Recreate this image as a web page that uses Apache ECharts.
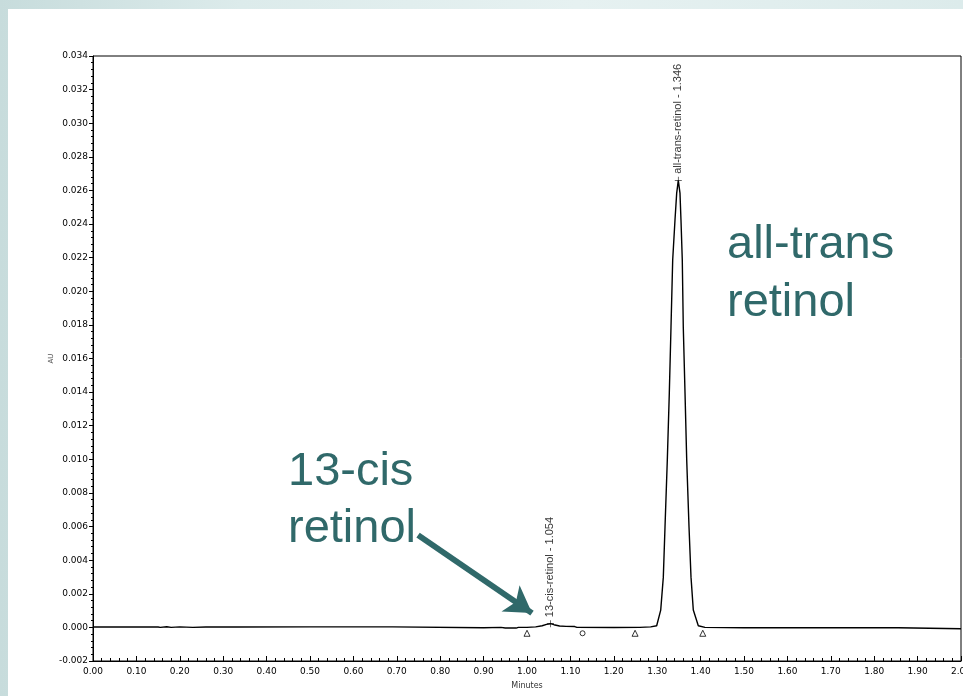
<!DOCTYPE html>
<html>
<head>
<meta charset="utf-8">
<script src="https://cdn.jsdelivr.net/npm/echarts@6/dist/echarts.min.js"></script>
<style>
  html, body { margin:0; padding:0; width:963px; height:696px; overflow:hidden;
    background: linear-gradient(to right, #c7dcdc 0%, #dcebeb 25%, #e6f1f1 60%, #dcebeb 100%); }
  #panel { position:absolute; left:8px; top:9px; right:0; bottom:0; background:#ffffff; }
  #chart { position:absolute; left:0; top:0; width:963px; height:696px; }
</style>
</head>
<body>
<div id="panel"></div>
<div id="chart"></div>
<script>
// ---- data ----
const times = [
  0.000, 0.150, 0.155, 0.170, 0.180, 0.200, 0.230, 0.260, 0.330, 0.500,
  0.690, 0.692, 0.900, 0.940, 0.950, 0.975, 0.980, 1.000, 1.020, 1.035,
  1.045, 1.054, 1.062, 1.075, 1.090, 1.110, 1.115, 1.200, 1.260, 1.285,
  1.2988, 1.3081, 1.3141, 1.3180, 1.3233, 1.3279, 1.3318, 1.3357, 1.3410, 1.3449,
  1.3486, 1.3525, 1.3548, 1.3578, 1.3601, 1.3641, 1.3680, 1.3733, 1.3779, 1.3832,
  1.3947, 1.410, 1.500, 1.855, 1.857, 2.000
];
const absorbance = [
  0.00002, 0.00002, 0.00000, 0.00004, 0.00000, 0.00003, 0.00000, 0.00002, 0.00002, 0.00003,
  0.00003, -0.00002, -0.00002, 0.00000, -0.00004, -0.00004, 0.00000, 0.00000, 0.00003, 0.00010,
  0.00018, 0.00022, 0.00016, 0.00008, 0.00006, 0.00005, 0.00000, -0.00001, 0.00000, 0.00003,
  0.00010, 0.00103, 0.00299, 0.00597, 0.00996, 0.01394, 0.01787, 0.02186, 0.02424, 0.02584,
  0.02660, 0.02584, 0.02424, 0.02186, 0.01787, 0.01394, 0.00996, 0.00597, 0.00299, 0.00103,
  0.00010, 0.00000, -0.00002, -0.00002, -0.00008, -0.00008
];
const peakNames = ['13-cis-retinol - 1.054', 'all-trans-retinol - 1.346'];
const peakTimes = [1.054, 1.3486];
const peakHeights = [0.00022, 0.02660];
const triangleTimes = [1.000, 1.249, 1.405];
const dropTimes = [1.128];
const markerLevel = -0.00035;
const annotations = ['all-trans\nretinol', '13-cis\nretinol'];
const arrowFrom = [0.749, 0.00549];
const arrowTo = [1.0115, 0.00085];

const teal = '#30696a';
const tickFont = { fontFamily: 'DejaVu Sans', fontSize: 9, color: '#000' };

const chart = echarts.init(document.getElementById('chart'), null, { renderer: 'canvas' });
chart.setOption({
  animation: false,
  backgroundColor: 'transparent',
  grid: { left: 93, right: 2, top: 56, bottom: 35, containLabel: false, outerBoundsMode: 'none',
          show: true, borderColor: '#000', borderWidth: 1, backgroundColor: 'transparent' },
  xAxis: {
    type: 'value', min: 0, max: 2, interval: 0.1,
    name: 'Minutes', nameLocation: 'middle', nameGap: 21, nameMoveOverlap: false,
    nameTextStyle: { fontFamily: 'DejaVu Sans', fontSize: 8, color: '#333' },
    axisLine: { onZero: false, lineStyle: { color: '#000', width: 1 } },
    axisTick: { inside: true, length: 5, lineStyle: { color: '#000' } },
    minorTick: { show: true, splitNumber: 5, length: 3, lineStyle: { color: '#000' } },
    splitLine: { show: false },
    axisLabel: Object.assign({ margin: 6, hideOverlap: false, showMaxLabel: true, formatter: v => v.toFixed(2) }, tickFont)
  },
  yAxis: {
    type: 'value', min: -0.002, max: 0.034, interval: 0.002,
    name: 'AU', nameLocation: 'middle', nameGap: 38, nameMoveOverlap: false,
    nameTextStyle: { fontFamily: 'DejaVu Sans', fontSize: 7, color: '#555' },
    axisLine: { onZero: false, lineStyle: { color: '#000', width: 1 } },
    axisTick: { inside: false, length: 4, lineStyle: { color: '#000' } },
    minorTick: { show: true, splitNumber: 5, length: 2, lineStyle: { color: '#000' } },
    splitLine: { show: false },
    axisLabel: Object.assign({ margin: 5, formatter: v => v.toFixed(3) }, tickFont)
  },
  series: [
    {
      type: 'line', name: 'trace', showSymbol: false, symbol: 'none',
      data: times.map((t, i) => [t, absorbance[i]]),
      lineStyle: { color: '#000', width: 1.4 },
      z: 3,
      markLine: {
        silent: true, symbol: ['none', 'arrow'], symbolSize: [24, 26],
        lineStyle: { color: teal, width: 6, type: 'solid' },
        label: { show: false },
        data: [[{ coord: arrowFrom }, { coord: arrowTo }]]
      }
    },
    {
      type: 'scatter', name: 'peaks',
      symbol: 'path://M0,4.5h10v1h-10z M4.5,0h1v10h-1z', symbolSize: 7,
      itemStyle: { color: '#000' },
      data: peakTimes.map((t, i) => ({ value: [t, peakHeights[i]], name: peakNames[i] })),
      label: {
        show: true, position: 'top', distance: 3, rotate: 90,
        align: 'left', verticalAlign: 'middle',
        formatter: p => p.name,
        fontFamily: 'Liberation Sans, Arial', fontSize: 11, color: '#000'
      },
      z: 4
    },
    {
      type: 'scatter', name: 'baselineMarks', symbol: 'triangle', symbolSize: 6,
      itemStyle: { color: 'none', borderColor: '#000', borderWidth: 1 },
      data: triangleTimes.map(t => [t, markerLevel])
    },
    {
      type: 'scatter', name: 'dropMarks', symbol: 'circle', symbolSize: 5,
      itemStyle: { color: 'none', borderColor: '#000', borderWidth: 1 },
      data: dropTimes.map(t => [t, markerLevel])
    }
  ],
  graphic: [
    { type: 'text', left: 727, top: 216, style: { text: annotations[0], fill: teal, fontSize: 47, lineHeight: 58, fontFamily: 'Liberation Sans, Arial' } },
    { type: 'text', left: 288, top: 444, style: { text: annotations[1], fill: teal, fontSize: 47, lineHeight: 57, fontFamily: 'Liberation Sans, Arial' } }
  ]
});
</script>
</body>
</html>
